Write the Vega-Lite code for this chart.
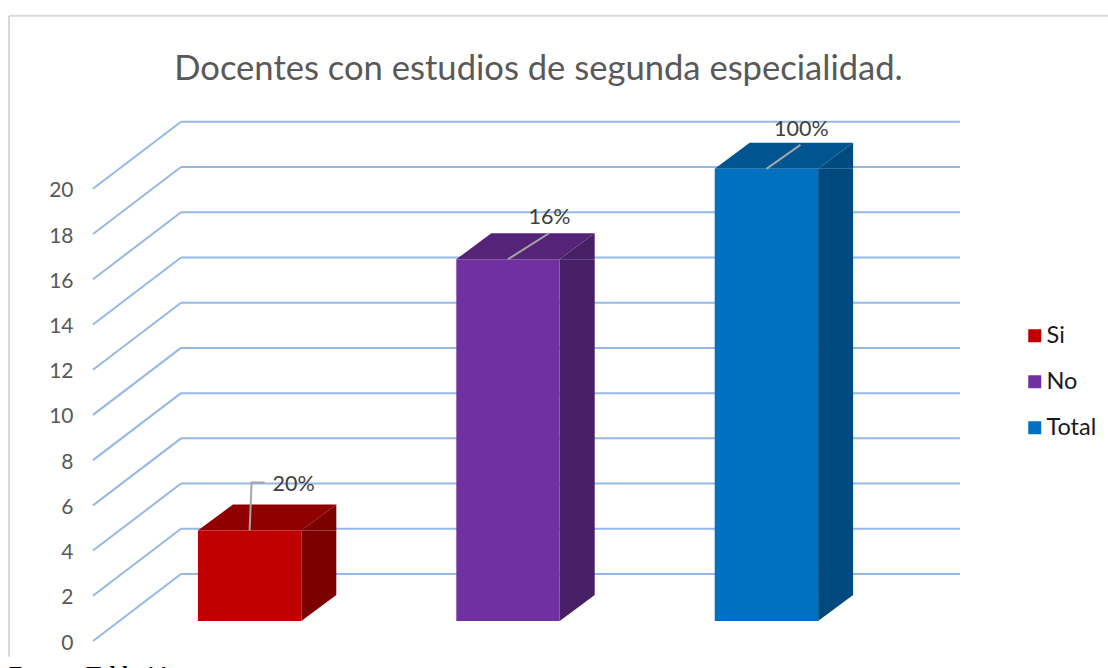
{
"$schema":"https://vega.github.io/schema/vega-lite/v6.json",
"width":867,"height":520,
"autosize":{"type":"none"},
"padding":{"left":93,"top":121,"right":148,"bottom":27},
"background":"white",
"view":{"stroke":null},
"config":{"view":{"stroke":null},"font":"Lato"},
"title":{"text":"Docentes con estudios de segunda especialidad.","font":"Lato","fontSize":34.6,"fontWeight":"normal","color":"#595959","anchor":"middle","dx":12,"offset":-73},
"datasets":{
"barras":[{"categoria":"Si","valor":4,"etiqueta":"20%"},{"categoria":"No","valor":16,"etiqueta":"16%"},{"categoria":"Total","valor":20,"etiqueta":"100%"}],
"marcas":[{"t":0},{"t":2},{"t":4},{"t":6},{"t":8},{"t":10},{"t":12},{"t":14},{"t":16},{"t":18},{"t":20}]
},
"resolve":{"scale":{"x":"independent","color":"independent"}},
"layer":[
{"data":{"name":"marcas"},"mark":{"type":"rule","color":"#95B9E6","strokeWidth":2,"y2Offset":-67},
 "encoding":{"x":{"datum":0,"type":"quantitative","scale":{"domain":[0,867],"range":[0,867]},"axis":null},"x2":{"datum":88},
 "y":{"field":"t","type":"quantitative","scale":{"domain":[0,23],"nice":false,"zero":false},"title":null,
  "axis":{"values":[0,2,4,6,8,10,12,14,16,18,20],"grid":false,"domain":false,"ticks":false,"labelPadding":20,"labelOffset":2,"labelFont":"Lato","labelFontSize":21,"labelColor":"#595959","title":null}},
 "y2":{"field":"t"}}},
{"data":{"name":"marcas"},"mark":{"type":"rule","color":"#95B9E6","strokeWidth":2,"yOffset":-67},
 "encoding":{"x":{"datum":88,"type":"quantitative","scale":{"domain":[0,867],"range":[0,867]},"axis":null},"x2":{"datum":867},
 "y":{"field":"t","type":"quantitative"}}},
{"data":{"values":[{"a":1}]},"mark":{"type":"rule","color":"#D9D9D9","strokeWidth":2},
 "encoding":{"x":{"datum":-84,"type":"quantitative","scale":{"domain":[0,867],"range":[0,867]},"axis":null},"y":{"datum":27.66},"y2":{"datum":-0.7}}},
{"data":{"values":[{"a":1}]},"mark":{"type":"rule","color":"#D9D9D9","strokeWidth":2},
 "encoding":{"x":{"datum":-84,"type":"quantitative","scale":{"domain":[0,867],"range":[0,867]},"axis":null},"x2":{"datum":1015},"y":{"datum":27.66}}},
{"data":{"values":[{"a":1}]},"mark":{"type":"text","align":"left","baseline":"alphabetic","font":"Liberation Serif","fontSize":22,"fontWeight":"bold","color":"#000000","text":"Fuente: Tabla 14"},
 "encoding":{"x":{"datum":-84,"type":"quantitative","scale":{"domain":[0,867],"range":[0,867]},"axis":null},"y":{"datum":-1.77}}},
{"data":{"name":"barras"},"mark":{"type":"rule","strokeWidth":35,"xOffset":69.2,"yOffset":-20,"y2Offset":-46},
 "encoding":{"x":{"field":"categoria","type":"nominal","sort":["Si","No","Total"],"scale":{"type":"band","range":[0,830],"paddingInner":0.6,"paddingOuter":0.406},"axis":null},
 "y":{"field":"valor","type":"quantitative"},"y2":{"datum":0},
 "color":{"field":"categoria","type":"nominal","sort":["Si","No","Total"],"scale":{"domain":["Si","No","Total"],"range":["#7B0000","#471F66","#004A80"]},"legend":null}}},
{"data":{"name":"barras"},"mark":{"type":"point","filled":true,"opacity":1,"size":10000,"yOffset":-20,"strokeWidth":0,"shape":"M1.034,0L1.734,0L1.734,-0.52Z"},
 "encoding":{"x":{"field":"categoria","type":"nominal","sort":["Si","No","Total"],"scale":{"type":"band","range":[0,830],"paddingInner":0.6,"paddingOuter":0.406},"axis":null},
 "y":{"field":"valor","type":"quantitative"},
 "color":{"field":"categoria","type":"nominal","scale":{"domain":["Si","No","Total"],"range":["#7B0000","#471F66","#004A80"]},"legend":null}}},
{"data":{"name":"barras"},"mark":{"type":"point","filled":true,"opacity":1,"size":10000,"yOffset":-20,"strokeWidth":0,"shape":"M1.034,0L1.734,-0.52L1.034,-0.52Z"},
 "encoding":{"x":{"field":"categoria","type":"nominal","sort":["Si","No","Total"],"scale":{"type":"band","range":[0,830],"paddingInner":0.6,"paddingOuter":0.406},"axis":null},
 "y":{"datum":0},
 "color":{"field":"categoria","type":"nominal","scale":{"domain":["Si","No","Total"],"range":["#7B0000","#471F66","#004A80"]},"legend":null}}},
{"data":{"name":"barras"},"mark":{"type":"point","filled":true,"opacity":1,"size":10000,"yOffset":-20,"strokeWidth":0,"shape":"M-1.034,0L1.034,0L1.734,-0.52L-0.334,-0.52Z"},
 "encoding":{"x":{"field":"categoria","type":"nominal","sort":["Si","No","Total"],"scale":{"type":"band","range":[0,830],"paddingInner":0.6,"paddingOuter":0.406},"axis":null},
 "y":{"field":"valor","type":"quantitative"},
 "color":{"field":"categoria","type":"nominal","scale":{"domain":["Si","No","Total"],"range":["#900000","#552479","#005490"]},"legend":null}}},
{"data":{"name":"barras"},"mark":{"type":"bar","yOffset":-20,"y2Offset":-20},
 "encoding":{"x":{"field":"categoria","type":"nominal","sort":["Si","No","Total"],"scale":{"type":"band","range":[0,830],"paddingInner":0.6,"paddingOuter":0.406},"axis":null},
 "y":{"field":"valor","type":"quantitative"},"y2":{"datum":0},
 "color":{"field":"categoria","type":"nominal","scale":{"domain":["Si","No","Total"],"range":["#C00000","#7030A0","#0070C0"]},
  "legend":{"orient":"none","legendX":930,"legendY":203,"title":null,"symbolType":"square","symbolSize":169,"symbolStrokeWidth":0,"labelFont":"Lato","labelFontSize":23.5,"labelColor":"#1A1A1A","rowPadding":21,"labelOffset":0,"padding":0}}}},
{"data":{"name":"barras"},"mark":{"type":"point","filled":false,"opacity":1,"size":10000,"yOffset":-20,"strokeWidth":2,"color":"#A6A6A6"},
 "encoding":{"x":{"field":"categoria","type":"nominal","sort":["Si","No","Total"],"scale":{"type":"band","range":[0,830],"paddingInner":0.6,"paddingOuter":0.406},"axis":null},
 "y":{"field":"valor","type":"quantitative"},
 "shape":{"field":"categoria","type":"nominal","scale":{"domain":["Si","No","Total"],"range":["M0,0L0.04,-0.96L0.3,-0.96","M0,0L0.82,-0.52","M0,0L0.68,-0.48"]},"legend":null}}},
{"data":{"name":"barras"},"transform":[{"filter":"datum.categoria==='Si'"}],"mark":{"type":"text","font":"Lato","fontSize":21.5,"color":"#404040","dx":44,"dy":-65.6},
 "encoding":{"x":{"field":"categoria","type":"nominal","scale":{"type":"band","domain":["Si","No","Total"],"range":[0,830],"paddingInner":0.6,"paddingOuter":0.406},"axis":null},"y":{"field":"valor","type":"quantitative"},"text":{"field":"etiqueta"}}},
{"data":{"name":"barras"},"transform":[{"filter":"datum.categoria==='No'"}],"mark":{"type":"text","font":"Lato","fontSize":21.5,"color":"#404040","dx":41.5,"dy":-61},
 "encoding":{"x":{"field":"categoria","type":"nominal","scale":{"type":"band","domain":["Si","No","Total"],"range":[0,830],"paddingInner":0.6,"paddingOuter":0.406},"axis":null},"y":{"field":"valor","type":"quantitative"},"text":{"field":"etiqueta"}}},
{"data":{"name":"barras"},"transform":[{"filter":"datum.categoria==='Total'"}],"mark":{"type":"text","font":"Lato","fontSize":21.5,"color":"#404040","dx":35,"dy":-59},
 "encoding":{"x":{"field":"categoria","type":"nominal","scale":{"type":"band","domain":["Si","No","Total"],"range":[0,830],"paddingInner":0.6,"paddingOuter":0.406},"axis":null},"y":{"field":"valor","type":"quantitative"},"text":{"field":"etiqueta"}}}
]
}
